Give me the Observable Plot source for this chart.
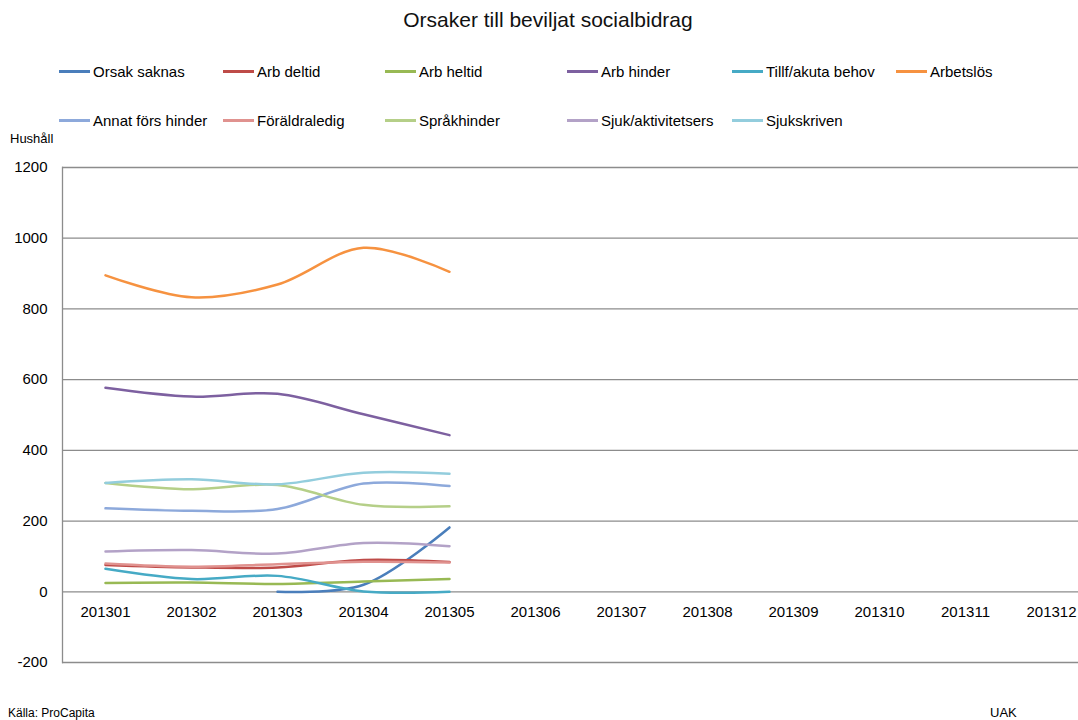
<!DOCTYPE html>
<html><head><meta charset="utf-8">
<script src="https://cdn.jsdelivr.net/npm/d3@7"></script>
<script src="https://cdn.jsdelivr.net/npm/@observablehq/plot@0.6"></script>
<style>
html,body{margin:0;padding:0;}
body{width:1078px;height:720px;overflow:hidden;background:#fff;font-family:"Liberation Sans",Arial,sans-serif;position:relative;color:#000}
#title{position:absolute;top:8px;left:0;width:1096px;text-align:center;font-size:21px;color:#111}
.leg{position:absolute;display:flex;align-items:center;font-size:15px;white-space:nowrap;height:20px}
.leg span.sw{display:inline-block;width:31px;height:3px;margin-right:3px}
#hush{position:absolute;left:10px;top:131px;font-size:13px;z-index:2}
#chart{position:absolute;left:0;top:140px;z-index:1}
#src{position:absolute;left:8px;top:706px;font-size:12px}
#uak{position:absolute;left:990px;top:705px;font-size:13px}
</style></head>
<body>
<div id="title">Orsaker till beviljat socialbidrag</div>
<div id="legend"></div>
<div id="hush">Hushåll</div>
<div id="chart"></div>
<div id="src">Källa: ProCapita</div>
<div id="uak">UAK</div>
<script>
const months = ["201301","201302","201303","201304","201305","201306","201307","201308","201309","201310","201311","201312"];
const seriesNames = ["Orsak saknas","Arb deltid","Arb heltid","Arb hinder","Tillf/akuta behov","Arbetslös","Annat förs hinder","Föräldraledig","Språkhinder","Sjuk/aktivitetsers","Sjukskriven"];
const seriesColors = ["#4A7EBB","#BE4B48","#98B954","#7D60A0","#46AAC5","#F69240","#8DA9DB","#E0928F","#B5CF88","#B3A2C7","#93CDDD"];
const yTicks = [-200,0,200,400,600,800,1000,1200];

const orsakSaknas     = [null, null, 0, 20, 182];
const arbDeltid       = [76, 69, 69, 90, 84];
const arbHeltid       = [25, 26, 22, 29, 36];
const arbHinder       = [577, 552, 560, 502, 443];
const tillfAkuta      = [65, 36, 45, 1, 0];
const arbetslos       = [895, 833, 869, 973, 905];
const annatForsHinder = [236, 229, 234, 306, 299];
const foraldraledig   = [80, 71, 78, 85, 83];
const sprakhinder     = [308, 290, 302, 246, 242];
const sjukAktivitet   = [114, 118, 108, 138, 129];
const sjukskriven     = [308, 318, 304, 337, 334];

const seriesValues = [orsakSaknas, arbDeltid, arbHeltid, arbHinder, tillfAkuta, arbetslos, annatForsHinder, foraldraledig, sprakhinder, sjukAktivitet, sjukskriven];

const rows = [];
seriesNames.forEach((name, i) => {
  seriesValues[i].forEach((v, j) => rows.push({series: name, month: months[j], value: v}));
});

// legend
const legCols = [59, 223, 385, 567, 732, 896];
const legRows = [61, 110];
const legend = document.getElementById("legend");
seriesNames.forEach((name, i) => {
  const r = i < 6 ? 0 : 1;
  const c = i < 6 ? i : i - 6;
  const d = document.createElement("div");
  d.className = "leg";
  d.style.left = legCols[c] + "px";
  d.style.top = legRows[r] + "px";
  d.innerHTML = `<span class="sw" style="background:${seriesColors[i]}"></span>${name}`;
  legend.appendChild(d);
});

const chart = Plot.plot({
  width: 1078,
  height: 560,
  marginTop: 27,
  marginBottom: 38,
  marginLeft: 62,
  marginRight: 0,
  style: {fontFamily: "'Liberation Sans', Arial, sans-serif", fontSize: "15px", background: "transparent"},
  x: {type: "point", domain: months, range: [105, 1051], padding: 0, axis: null},
  y: {domain: [-200, 1200], axis: null},
  color: {domain: seriesNames, range: seriesColors},
  marks: [
    Plot.ruleY(yTicks, {stroke: "#8c8c8c", strokeWidth: 1.3}),
    Plot.frame({anchor: "left", stroke: "#8c8c8c", strokeWidth: 1.3}),
    Plot.axisY(yTicks, {tickSize: 0, tickPadding: 15, label: null, fontSize: 15, tickFormat: d => String(d)}),
    Plot.text(months, {x: d => d, y: 0, dy: 20, text: d => d, fontSize: 15}),
    Plot.line(rows, {x: "month", y: "value", z: "series", stroke: "series", strokeWidth: 2.5, curve: "catmull-rom"})
  ]
});
document.getElementById("chart").appendChild(chart);
</script>
</body></html>
